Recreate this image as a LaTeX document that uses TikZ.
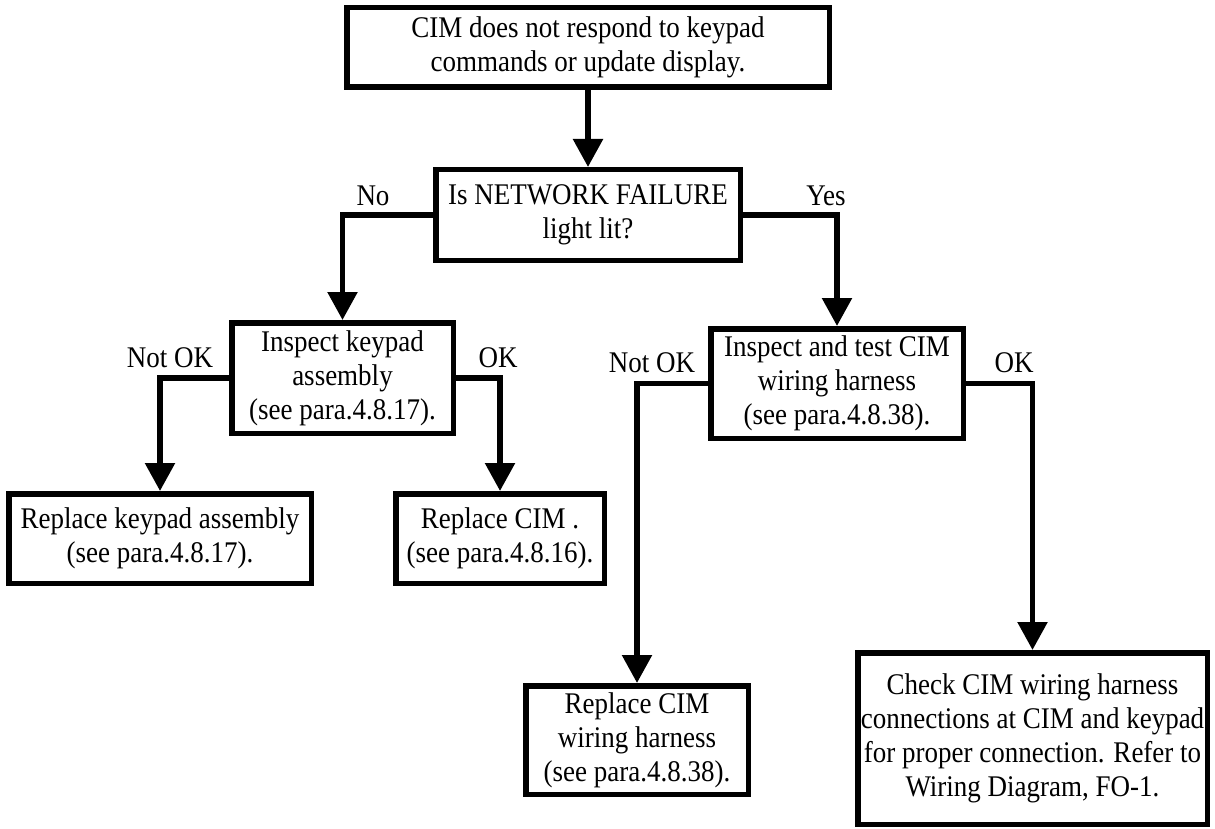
\documentclass[tikz,border=0pt]{standalone}
\usepackage{fontspec}
\setmainfont{Liberation Serif}[FakeStretch=0.9]
\usetikzlibrary{arrows.meta}
\begin{document}
\begin{tikzpicture}[x=1pt,y=-1pt,
  box/.style={draw, line width=5.5pt, inner sep=0pt, align=center, font=\fontsize{30}{34}\selectfont},
  conn/.style={line width=5.5pt, -{Triangle[width=29pt,length=28pt]}},
  lbl/.style={font=\fontsize{30}{34}\selectfont, inner sep=0pt, anchor=base}]
\useasboundingbox (0,0) rectangle (1215,829);
\node[box, minimum width=482.5pt, minimum height=79.5pt] (top) at (588,47.5) {CIM does not respond to keypad\\commands or update display.};
\node[box, minimum width=304.5pt, minimum height=90.5pt] (dec) at (588,215) {Is NETWORK FAILURE\\light lit?};
\node[box, minimum width=221.5pt, minimum height=110.5pt] (b3) at (342.5,378) {Inspect keypad\\assembly\\(see para.4.8.17).};
\node[box, minimum width=252.5pt, minimum height=109.5pt] (b4) at (837,383.5) {Inspect and test CIM\\wiring harness\\(see para.4.8.38).};
\node[box, minimum width=302.5pt, minimum height=89.5pt] (b5) at (160,538.5) {Replace keypad assembly\\(see para.4.8.17).};
\node[box, minimum width=208.5pt, minimum height=89.5pt] (b6) at (500,538.5) {Replace CIM .\\(see para.4.8.16).};
\node[box, minimum width=222.5pt, minimum height=108.5pt] (b7) at (637,740) {Replace CIM\\wiring harness\\(see para.4.8.38).};
\node[box, minimum width=349.5pt, minimum height=171.5pt] (b8) at (1032.5,738.5) {Check CIM wiring harness\\connections at CIM and keypad\\for proper connection. Refer to\\Wiring Diagram, FO-1.};
\draw[conn] (top.south) -- (dec.north);
\draw[conn] (dec.west) -| (b3.north);
\draw[conn] (dec.east) -| (b4.north);
\draw[conn] (b3.west) -| (b5.north);
\draw[conn] (b3.east) -| (b6.north);
\draw[conn] (b4.west) -| (b7.north);
\draw[conn] (b4.east) -| (b8.north);
\node[lbl] (lno) at (373,205) {No};
\node[lbl] (lyes) at (826,205) {Yes};
\node[lbl] (lnok1) at (170,367) {Not OK};
\node[lbl] (lok1) at (498,367) {OK};
\node[lbl] (lnok2) at (652,372) {Not OK};
\node[lbl] (lok2) at (1014,372) {OK};
\end{tikzpicture}
\end{document}
